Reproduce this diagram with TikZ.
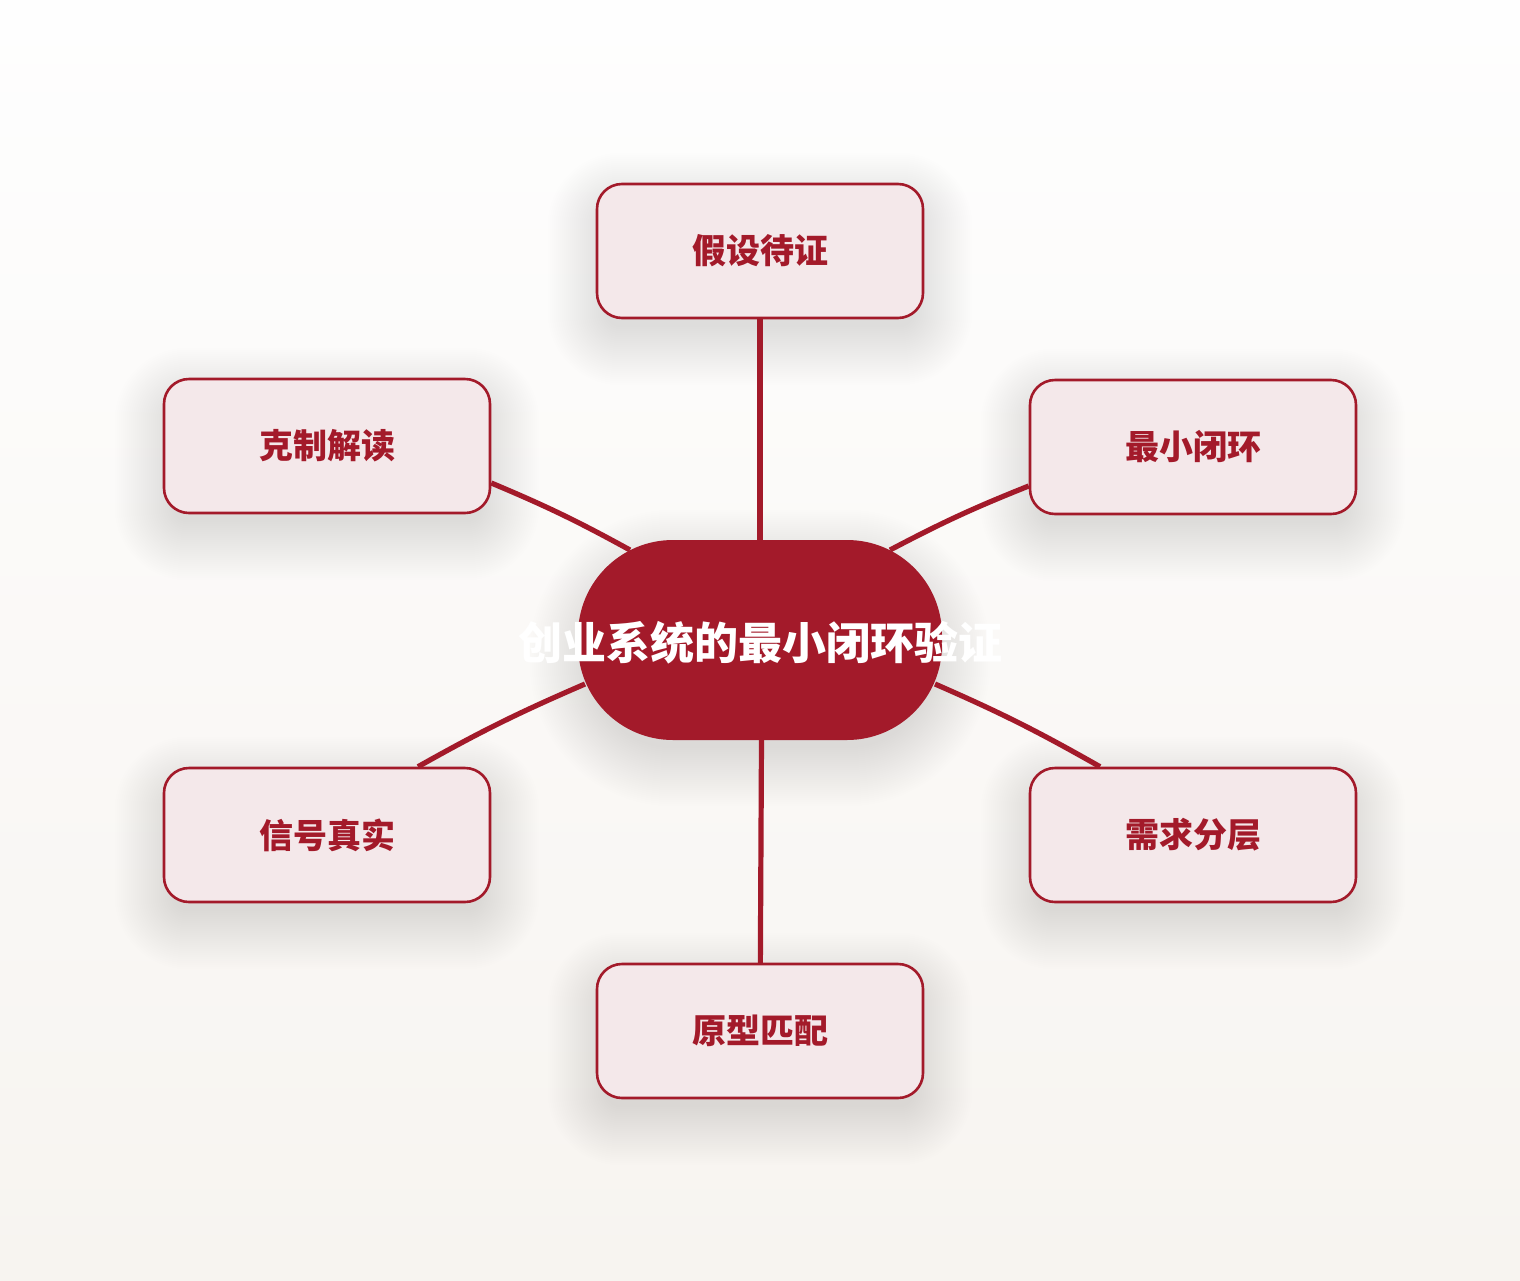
\documentclass[tikz,border=0pt]{standalone}
\usepackage{fontspec}
\setmainfont{Noto Sans CJK SC}
\usetikzlibrary{calc}
\definecolor{deep}{HTML}{A31A2A}
\definecolor{pale}{HTML}{F4E8EA}
\definecolor{bgtop}{HTML}{FEFEFE}
\definecolor{bgbot}{HTML}{F7F4F0}
\pgfdeclarelayer{bglayer}
\pgfdeclarelayer{shadowlayer}
\pgfdeclarelayer{edgelayer}
\pgfsetlayers{bglayer,shadowlayer,edgelayer,main}
\tikzset{
  leafbox/.style={draw=deep, line width=2.6pt, fill=pale, rounded corners=25pt,
    minimum width=326pt, minimum height=134pt, inner sep=0pt,
    text=deep, font=\fontsize{34}{34}\selectfont\bfseries},
  hubbox/.style={fill=deep, draw=none, rounded corners=95pt,
    minimum width=364pt, minimum height=200pt, inner sep=0pt},
  hubtext/.style={text=white, inner sep=0pt, font=\fontsize{44}{44}\selectfont\bfseries},
  edge/.style={draw=deep, line width=5.2pt},
  shadowstep/.style={fill=black, fill opacity=0.0055, draw=none}
}
\begin{document}
\begin{tikzpicture}[x=1pt,y=-1pt]
\begin{pgfonlayer}{bglayer}
\fill[top color=bgtop, bottom color=bgbot] (0,0) rectangle (1520,1280);
\end{pgfonlayer}
\useasboundingbox (0,0) rectangle (1520,1280);

\node[hubbox] (c) at (760,640) {};
\node[hubtext] (ct) at (760,643) {创业系统的最小闭环验证};

\node[leafbox] (a) at (760,251) {假设待证};
\node[leafbox] (b) at (327,446) {克制解读};
\node[leafbox] (d) at (1193,447) {最小闭环};
\node[leafbox] (e) at (327,835) {信号真实};
\node[leafbox] (f) at (1193,835) {需求分层};
\node[leafbox] (g) at (760,1031) {原型匹配};

\begin{pgfonlayer}{shadowlayer}
\foreach \r in {-10,-8,...,48}{
  \path[shadowstep, rounded corners=95+\r]
    ($(c.north west)+(-\r,-\r+18)$) rectangle ($(c.south east)+(\r,\r+18)$);
  \foreach \n in {a,b,d,e,f,g}{
    \path[shadowstep, rounded corners=25+\r]
      ($(\n.north west)+(-\r,-\r+18)$) rectangle ($(\n.south east)+(\r,\r+18)$);
  }
}
\end{pgfonlayer}

\begin{pgfonlayer}{edgelayer}
\draw[edge] (c.center) -- (a.center);
\draw[edge] ($(b.east)+(0,37)$) to[bend left=3] ($(c.center)+(-130,-90)$);
\draw[edge] ($(d.west)+(0,39)$) to[bend right=3] ($(c.center)+(130,-90)$);
\draw[edge] ($(e.north)+(91,0)$) to[bend left=3] ($(c.center)+(-175,44)$);
\draw[edge] ($(f.north)+(-93,0)$) to[bend right=3] ($(c.center)+(175,44)$);
\draw[edge] ($(c.center)+(2,0)$) -- (g.center);
\end{pgfonlayer}
\end{tikzpicture}
\end{document}
